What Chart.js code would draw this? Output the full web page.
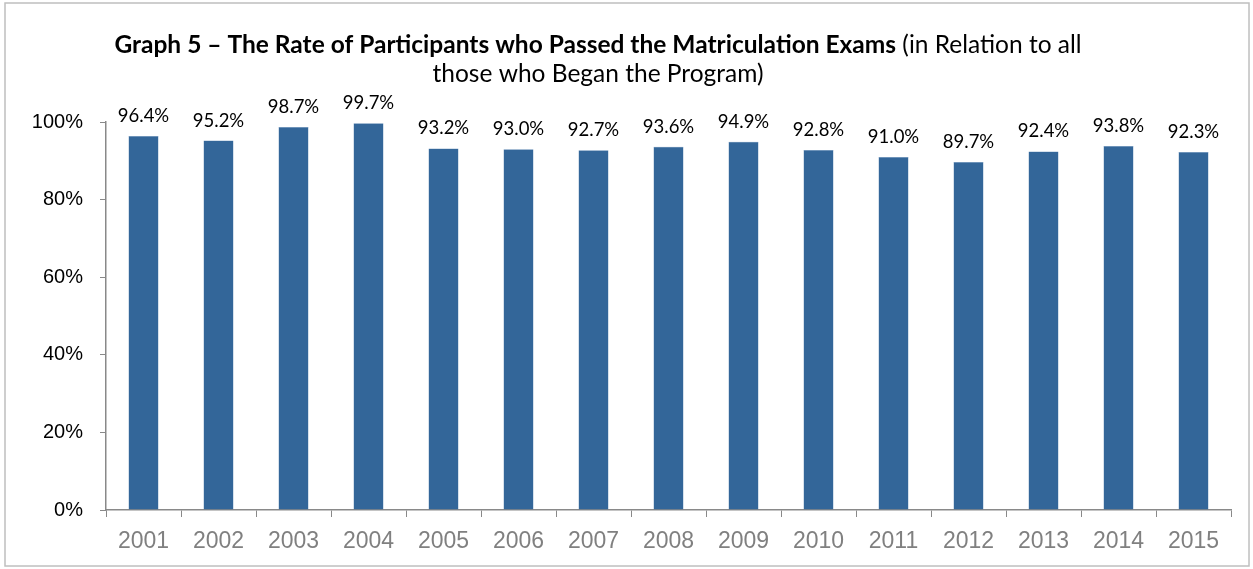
<!DOCTYPE html>
<html>
<head>
<meta charset="utf-8">
<script src="https://cdn.jsdelivr.net/npm/chart.js@4.4.0/dist/chart.umd.min.js"></script>
<style>
  html, body { margin: 0; padding: 0; background: #fff; }
  #wrap { width: 1253px; height: 569px; position: relative; }
</style>
</head>
<body>
<div id="wrap"><canvas id="passChart"></canvas></div>
<script>
// Chart data
const years = ['2001', '2002', '2003', '2004', '2005', '2006', '2007', '2008',
  '2009', '2010', '2011', '2012', '2013', '2014', '2015'];
const passRates = [96.4, 95.2, 98.7, 99.7, 93.2, 93.0, 92.7, 93.6, 94.9, 92.8, 91.0, 89.7, 92.4, 93.8, 92.3];
const yTicks = [0, 20, 40, 60, 80, 100];

const titleBold = 'Graph 5 \u2013 The Rate of Participants who Passed the Matriculation Exams';
const titleRest = ' (in Relation to all';
const titleLine2 = 'those who Began the Program)';

// Border + two-part title drawn on the canvas
const frameAndTitle = {
  id: 'frameAndTitle',
  beforeDraw(chart) {
    const c = chart.ctx;
    c.save();
    c.strokeStyle = '#bfbfbf';
    c.lineWidth = 1.5;
    c.strokeRect(5, 3, 1244, 563);

    c.fillStyle = '#000';
    c.textBaseline = 'middle';
    const boldFont = 'bold 24.5px Lato, "Open Sans", sans-serif';
    const normFont = '24.5px Lato, "Open Sans", sans-serif';
    c.font = boldFont;
    const w1 = c.measureText(titleBold).width;
    c.font = normFont;
    const w2 = c.measureText(titleRest).width;
    const cx = 598;
    let x = cx - (w1 + w2) / 2;
    c.textAlign = 'left';
    c.font = boldFont;
    c.fillText(titleBold, x, 45);
    c.font = normFont;
    c.fillText(titleRest, x + w1, 45);
    c.textAlign = 'center';
    c.fillText(titleLine2, cx, 74);
    c.restore();
  }
};

// Value labels above each bar
const valueLabels = {
  id: 'valueLabels',
  afterDatasetsDraw(chart) {
    const c = chart.ctx;
    const meta = chart.getDatasetMeta(0);
    c.save();
    c.font = '18.5px Lato, "Open Sans", sans-serif';
    c.fillStyle = '#000';
    c.textAlign = 'center';
    c.textBaseline = 'middle';
    meta.data.forEach((bar, i) => {
      c.fillText(passRates[i].toFixed(1) + '%', bar.x, bar.y - 20);
    });
    c.restore();
  }
};

new Chart(document.getElementById('passChart'), {
  type: 'bar',
  data: {
    labels: years,
    datasets: [{
      data: passRates,
      backgroundColor: '#336699',
      borderColor: '#5b86b3',
      borderWidth: 0.5,
      barPercentage: 0.8,
      categoryPercentage: 0.5
    }]
  },
  options: {
    responsive: true,
    maintainAspectRatio: false,
    animation: false,
    layout: { padding: { top: 122, left: 6, right: 22, bottom: 0 } },
    plugins: {
      legend: { display: false },
      title: { display: false },
      tooltip: { enabled: false }
    },
    scales: {
      x: {
        offset: true,
        grid: {
          offset: true,
          drawOnChartArea: false,
          drawTicks: true,
          tickLength: 7,
          color: '#898989'
        },
        border: { color: '#898989', width: 1.5 },
        ticks: {
          color: '#808080',
          font: { family: '"Liberation Sans", Arial, sans-serif', size: 23 },
          padding: 11
        },
        afterFit(scale) { scale.height = 59; }
      },
      y: {
        min: 0,
        max: 100,
        afterBuildTicks(scale) { scale.ticks = yTicks.map(v => ({ value: v })); },
        grid: {
          drawOnChartArea: false,
          drawTicks: true,
          tickLength: 6,
          color: '#898989'
        },
        border: { color: '#898989', width: 1.5 },
        ticks: {
          color: '#000',
          font: { family: '"Liberation Sans", Arial, sans-serif', size: 20 },
          padding: 17,
          callback: v => v + '%'
        },
        afterFit(scale) { scale.width = 100; }
      }
    }
  },
  plugins: [frameAndTitle, valueLabels]
});
</script>
</body>
</html>
